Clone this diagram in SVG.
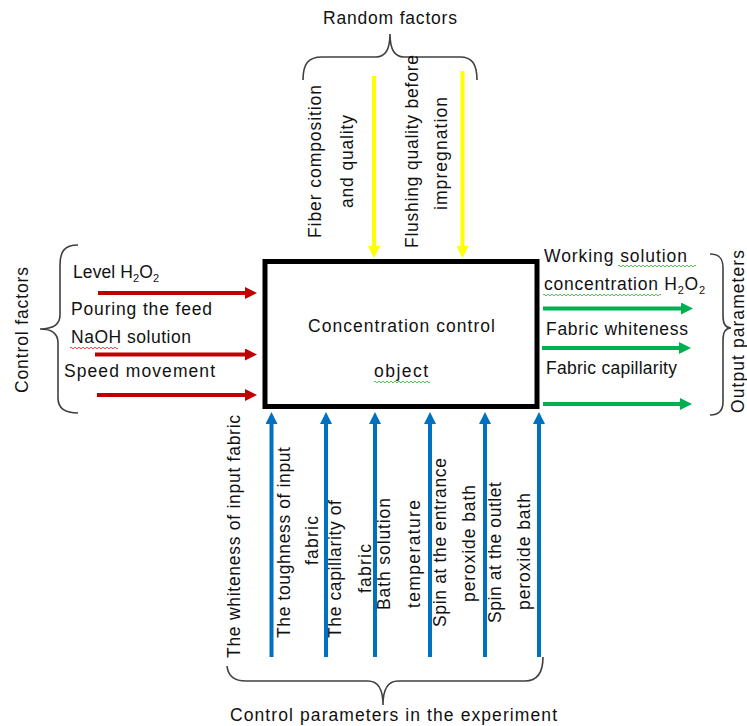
<svg xmlns="http://www.w3.org/2000/svg" width="747" height="726" viewBox="0 0 747 726">
<style>
text{font-family:"Liberation Sans",Arial,sans-serif;font-size:17.5px;fill:#111;}
.sub{font-size:11px;}
.brace{fill:none;stroke:#404040;stroke-width:1.6;}
.red{stroke:#C00000;stroke-width:4;fill:none;}
.green{stroke:#00B050;stroke-width:4;fill:none;}
.blue{stroke:#0070C0;stroke-width:4;fill:none;}
.yellow{stroke:#FFFF00;stroke-width:4;fill:none;}
.wr{fill:none;stroke:#E03030;stroke-width:0.9;}
.wg{fill:none;stroke:#3CB043;stroke-width:0.9;}
</style>
<defs>
<marker id="ahR" viewBox="0 0 12 12" markerWidth="12" markerHeight="12" markerUnits="userSpaceOnUse" refX="1" refY="6" orient="auto"><path d="M0,0 L12,6 L0,12 z" fill="#C00000"/></marker>
<marker id="ahG" viewBox="0 0 12 12" markerWidth="12" markerHeight="12" markerUnits="userSpaceOnUse" refX="1" refY="6" orient="auto"><path d="M0,0 L12,6 L0,12 z" fill="#00B050"/></marker>
<marker id="ahB" viewBox="0 0 12 12" markerWidth="12" markerHeight="12" markerUnits="userSpaceOnUse" refX="1" refY="6" orient="auto"><path d="M0,0 L12,6 L0,12 z" fill="#0070C0"/></marker>
<marker id="ahY" viewBox="0 0 12 12" markerWidth="12" markerHeight="12" markerUnits="userSpaceOnUse" refX="1" refY="6" orient="auto"><path d="M0,0 L12,6 L0,12 z" fill="#FFFF00"/></marker>
</defs>

<g id="object">
<rect x="265" y="261.5" width="272" height="145" fill="#fff" stroke="#000" stroke-width="5"/>
<text x="308" y="332" textLength="187" lengthAdjust="spacing">Concentration control</text>
<text x="374" y="377" textLength="54" lengthAdjust="spacing">object</text>
<path class="wg" d="M374,382 q1,-1.6 2,0t2,0t2,0t2,0t2,0t2,0t2,0t2,0t2,0t2,0t2,0t2,0t2,0t2,0t2,0t2,0t2,0t2,0t2,0t2,0t2,0t2,0t2,0t2,0t2,0t2,0t2,0t2,0"/>
</g>

<g id="random-factors">
<text x="323" y="24" textLength="134" lengthAdjust="spacing">Random factors</text>
<path class="brace" d="M303,80 C303,64 308,57 322,57 L376,57 C386,57 390,48 390,34 C390,48 394,57 404,57 L460,57 C472,57 477,64 477,80"/>
<text transform="translate(321,238) rotate(-90)" textLength="153" lengthAdjust="spacing">Fiber composition</text>
<text transform="translate(353,208) rotate(-90)" textLength="93" lengthAdjust="spacing">and quality</text>
<text transform="translate(418,248) rotate(-90)" textLength="193" lengthAdjust="spacing">Flushing quality before</text>
<text transform="translate(447,210) rotate(-90)" textLength="113" lengthAdjust="spacing">impregnation</text>
</g>

<g id="control-factors">
<path class="brace" d="M78,245 C64,245 60,252 60,265 L60,315 C60,325 52,329 40,329 C52,329 58,334 58,343 L58,398 C58,408 64,413 78,413"/>
<text transform="translate(28,393) rotate(-90)" textLength="126" lengthAdjust="spacing">Control factors</text>
<text x="73" y="278" textLength="86" lengthAdjust="spacing">Level H<tspan class="sub" dy="4">2</tspan><tspan dy="-4">O</tspan><tspan class="sub" dy="4">2</tspan></text>
<text x="71" y="315" textLength="141" lengthAdjust="spacing">Pouring the feed</text>
<text x="71" y="343" textLength="120" lengthAdjust="spacing">NaOH solution</text>
<path class="wr" d="M70,348 q1,-1.6 2,0t2,0t2,0t2,0t2,0t2,0t2,0t2,0t2,0t2,0t2,0t2,0t2,0t2,0t2,0t2,0t2,0t2,0t2,0t2,0t2,0t2,0t2,0t2,0"/>
<text x="64" y="377" textLength="151" lengthAdjust="spacing">Speed movement</text>
</g>

<g id="output-parameters">
<path class="brace" d="M710,254 C719,254 723,258 723,268 L723,316 C723,324 726,328 731,328 C726,328 723,332 723,340 L723,402 C723,411 719,415 710,415"/>
<text transform="translate(744,413) rotate(-90)" textLength="163" lengthAdjust="spacing">Output parameters</text>
<text x="544" y="262" textLength="143" lengthAdjust="spacing">Working solution</text>
<path class="wg" d="M618,266 q1,-1.6 2,0t2,0t2,0t2,0t2,0t2,0t2,0t2,0t2,0t2,0t2,0t2,0t2,0t2,0t2,0t2,0t2,0t2,0t2,0t2,0t2,0t2,0t2,0t2,0t2,0t2,0t2,0t2,0t2,0t2,0t2,0t2,0t2,0t2,0t2,0t2,0t2,0t2,0t2,0"/>
<text x="544" y="290" textLength="161" lengthAdjust="spacing">concentration H<tspan class="sub" dy="4">2</tspan><tspan dy="-4">O</tspan><tspan class="sub" dy="4">2</tspan></text>
<path class="wg" d="M543,295 q1,-1.6 2,0t2,0t2,0t2,0t2,0t2,0t2,0t2,0t2,0t2,0t2,0t2,0t2,0t2,0t2,0t2,0t2,0t2,0t2,0t2,0t2,0t2,0t2,0t2,0t2,0t2,0t2,0t2,0t2,0t2,0t2,0t2,0t2,0t2,0t2,0t2,0t2,0t2,0t2,0t2,0t2,0t2,0t2,0t2,0t2,0t2,0t2,0t2,0t2,0t2,0t2,0t2,0t2,0t2,0t2,0t2,0t2,0t2,0t2,0"/>
<text x="546" y="335" textLength="142" lengthAdjust="spacing">Fabric whiteness</text>
<text x="546" y="374" textLength="131" lengthAdjust="spacing">Fabric capillarity</text>
</g>

<g id="control-parameters">
<path class="brace" d="M227,666 C228,676 234,681 246,681 L368,681 C378,681 383,690 383,705 C383,690 388,681 398,681 L525,681 C537,681 543,673 543,657"/>
<text x="230" y="721" textLength="327" lengthAdjust="spacing">Control parameters in the experiment</text>
<text transform="translate(240,658) rotate(-90)" textLength="243" lengthAdjust="spacing">The whiteness of input fabric</text>
<text transform="translate(290,638) rotate(-90)" textLength="191" lengthAdjust="spacing">The toughness of input</text>
<text transform="translate(318,565) rotate(-90)" textLength="49" lengthAdjust="spacing">fabric</text>
<text transform="translate(341,638) rotate(-90)" textLength="138" lengthAdjust="spacing">The capillarity  of</text>
<text transform="translate(371,593) rotate(-90)" textLength="49" lengthAdjust="spacing">fabric</text>
<text transform="translate(390,610) rotate(-90)" textLength="112" lengthAdjust="spacing">Bath solution</text>
<text transform="translate(420,608) rotate(-90)" textLength="108" lengthAdjust="spacing">temperature</text>
<text transform="translate(446,627) rotate(-90)" textLength="169" lengthAdjust="spacing">Spin at the entrance</text>
<text transform="translate(475,602) rotate(-90)" textLength="117" lengthAdjust="spacing">peroxide bath</text>
<text transform="translate(501,623) rotate(-90)" textLength="141" lengthAdjust="spacing">Spin at the outlet</text>
<text transform="translate(530,610) rotate(-90)" textLength="117" lengthAdjust="spacing">peroxide bath</text>
</g>

<g id="connectors">
<line class="red" x1="98" y1="293" x2="246" y2="293" marker-end="url(#ahR)"/>
<line class="red" x1="95" y1="354.5" x2="246" y2="354.5" marker-end="url(#ahR)"/>
<line class="red" x1="97" y1="395" x2="246" y2="395" marker-end="url(#ahR)"/>
<line class="yellow" x1="374" y1="76" x2="374" y2="247" marker-end="url(#ahY)"/>
<line class="yellow" x1="462.5" y1="71" x2="462.5" y2="247" marker-end="url(#ahY)"/>
<line class="green" x1="543" y1="308.5" x2="682" y2="308.5" marker-end="url(#ahG)"/>
<line class="green" x1="542" y1="348" x2="680" y2="348" marker-end="url(#ahG)"/>
<line class="green" x1="543" y1="404" x2="681" y2="404" marker-end="url(#ahG)"/>
<line class="blue" x1="271.5" y1="657" x2="271.5" y2="423" marker-end="url(#ahB)"/>
<line class="blue" x1="326" y1="657" x2="326" y2="423" marker-end="url(#ahB)"/>
<line class="blue" x1="375" y1="657" x2="375" y2="423" marker-end="url(#ahB)"/>
<line class="blue" x1="430" y1="657" x2="430" y2="423" marker-end="url(#ahB)"/>
<line class="blue" x1="485" y1="657" x2="485" y2="423" marker-end="url(#ahB)"/>
<line class="blue" x1="539" y1="657" x2="539" y2="423" marker-end="url(#ahB)"/>
</g>
</svg>
